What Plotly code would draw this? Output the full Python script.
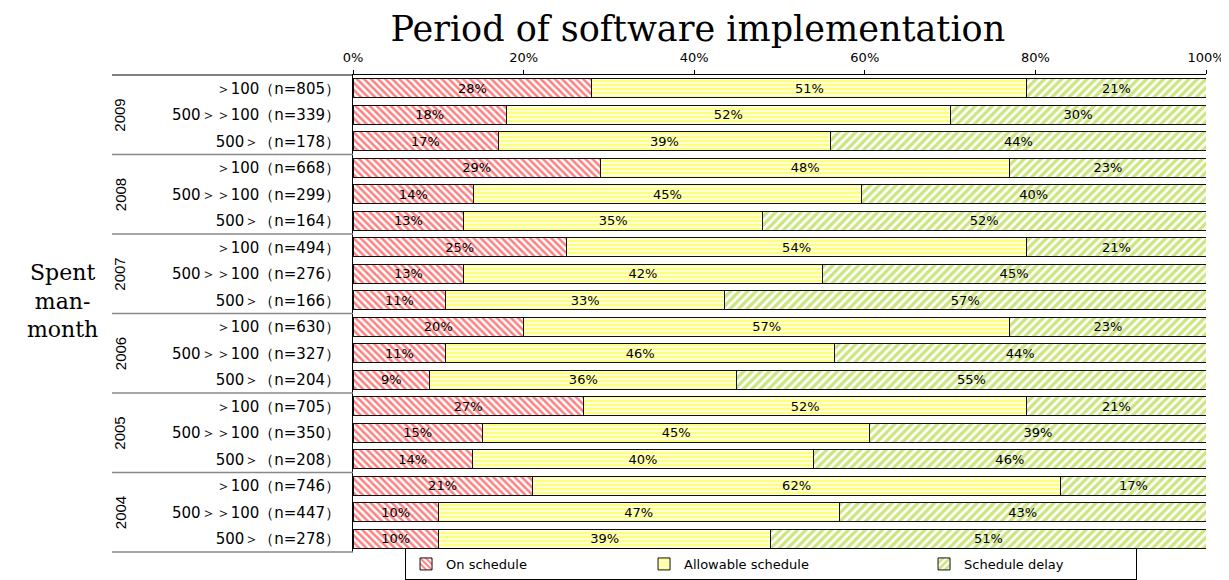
import plotly.graph_objects as go

years = ["2009", "2008", "2007", "2006", "2005", "2004"]
sizes = ["＞100", "500＞＞100", "500＞"]
counts = [
    [805, 339, 178],
    [668, 299, 164],
    [494, 276, 166],
    [630, 327, 204],
    [705, 350, 208],
    [746, 447, 278],
]
on_schedule = [28, 18, 17, 29, 14, 13, 25, 13, 11, 20, 11, 9, 27, 15, 14, 21, 10, 10]
allowable = [51, 52, 39, 48, 45, 35, 54, 42, 33, 57, 46, 36, 52, 45, 40, 62, 47, 39]
delay = [21, 30, 44, 23, 40, 52, 21, 45, 57, 23, 44, 55, 21, 39, 46, 17, 43, 51]
series_names = ["On schedule", "Allowable schedule", "Schedule delay"]
x_ticks = [0, 20, 40, 60, 80, 100]

cat_ids = []
cat_labels = []
for yi, yr in enumerate(years):
    for si, s in enumerate(sizes):
        cat_ids.append(f"{yr}-{si}")
        cat_labels.append(f"{s}（n={counts[yi][si]}）")

styles = [
    dict(shape="\\", fg="#ff0000", size=5, solidity=0.5, lw=193),
    dict(shape="-", fg="#ffff00", size=4, solidity=0.65, lw=235),
    dict(shape="/", fg="#99cc00", size=6, solidity=0.55, lw=167),
]

SANS = "DejaVu Sans"
fig = go.Figure()
for name, vals, st in zip(series_names, [on_schedule, allowable, delay], styles):
    fig.add_trace(go.Bar(
        y=cat_ids, x=vals, orientation="h", name=name,
        text=[f"{v}%" for v in vals], textposition="inside",
        insidetextanchor="middle", textangle=0,
        textfont=dict(family=SANS, size=13, color="black"),
        marker=dict(color="white", line=dict(color="#111111", width=1),
                    pattern=dict(shape=st["shape"], fgcolor=st["fg"], bgcolor="white",
                                 size=st["size"], solidity=st["solidity"])),
        legendwidth=st["lw"],
        hoverinfo="skip",
    ))

shapes = []
for g in range(1, len(years)):
    yb = g * 3 - 0.5
    shapes.append(dict(type="line", xref="paper", yref="y", x0=-0.2825, x1=0,
                       y0=yb, y1=yb, line=dict(color="#888888", width=1.5)))
shapes.append(dict(type="line", xref="paper", yref="paper", x0=-0.2825, x1=0,
                   y0=1, y1=1, line=dict(color="black", width=1)))
shapes.append(dict(type="line", xref="paper", yref="paper", x0=-0.2825, x1=0,
                   y0=0, y1=0, line=dict(color="#888888", width=1.5)))

annotations = []
for g, yr in enumerate(years):
    annotations.append(dict(text=yr, xref="paper", yref="y", x=-0.2732, y=g * 3 + 1,
                            xanchor="center", yanchor="middle",
                            textangle=-90, showarrow=False,
                            font=dict(family="Liberation Sans Narrow, Liberation Sans", size=15,
                                      color="black")))
annotations.append(dict(text="Spent<br>man-<br>month", xref="paper", yref="paper",
                        x=-0.341, y=0.526, xanchor="center", yanchor="middle",
                        showarrow=False, align="center",
                        font=dict(family="DejaVu Serif", size=22, color="black")))

# page has an 8px body margin: figure occupies page x 8..1229, y 8..580
fig.update_layout(
    width=1221, height=572,
    barmode="stack", barnorm="percent", bargap=0.28,
    uniformtext=dict(minsize=13, mode="show"),
    paper_bgcolor="white", plot_bgcolor="white",
    margin=dict(l=345, r=23, t=67, b=28, autoexpand=False),
    title=dict(text="Period of software implementation", x=0.565, xref="container",
               xanchor="center", y=0.963, yref="container", yanchor="middle",
               font=dict(family="DejaVu Serif", size=35, color="black")),
    xaxis=dict(side="top", range=[0, 100], tickvals=x_ticks,
               ticktext=[f"{v}%" for v in x_ticks],
               ticks="outside", ticklen=4, tickcolor="black", showline=True,
               linecolor="black", linewidth=1, showgrid=False, zeroline=False,
               ticklabelstandoff=3,
               tickfont=dict(family=SANS, size=13, color="black")),
    yaxis=dict(type="category", categoryorder="array", categoryarray=cat_ids,
               autorange="reversed", tickvals=cat_ids, ticktext=cat_labels,
               ticks="", showline=True, linecolor="black", linewidth=1,
               showgrid=False, ticklabelstandoff=9,
               tickfont=dict(family=SANS, size=15, color="black")),
    legend=dict(orientation="h", x=0.061, xanchor="left", y=0.0, yref="container",
                yanchor="bottom",
                bordercolor="black", borderwidth=1, traceorder="normal",
                font=dict(family=SANS, size=13, color="black")),
    shapes=shapes, annotations=annotations,
)

fig.write_html("out.html")
